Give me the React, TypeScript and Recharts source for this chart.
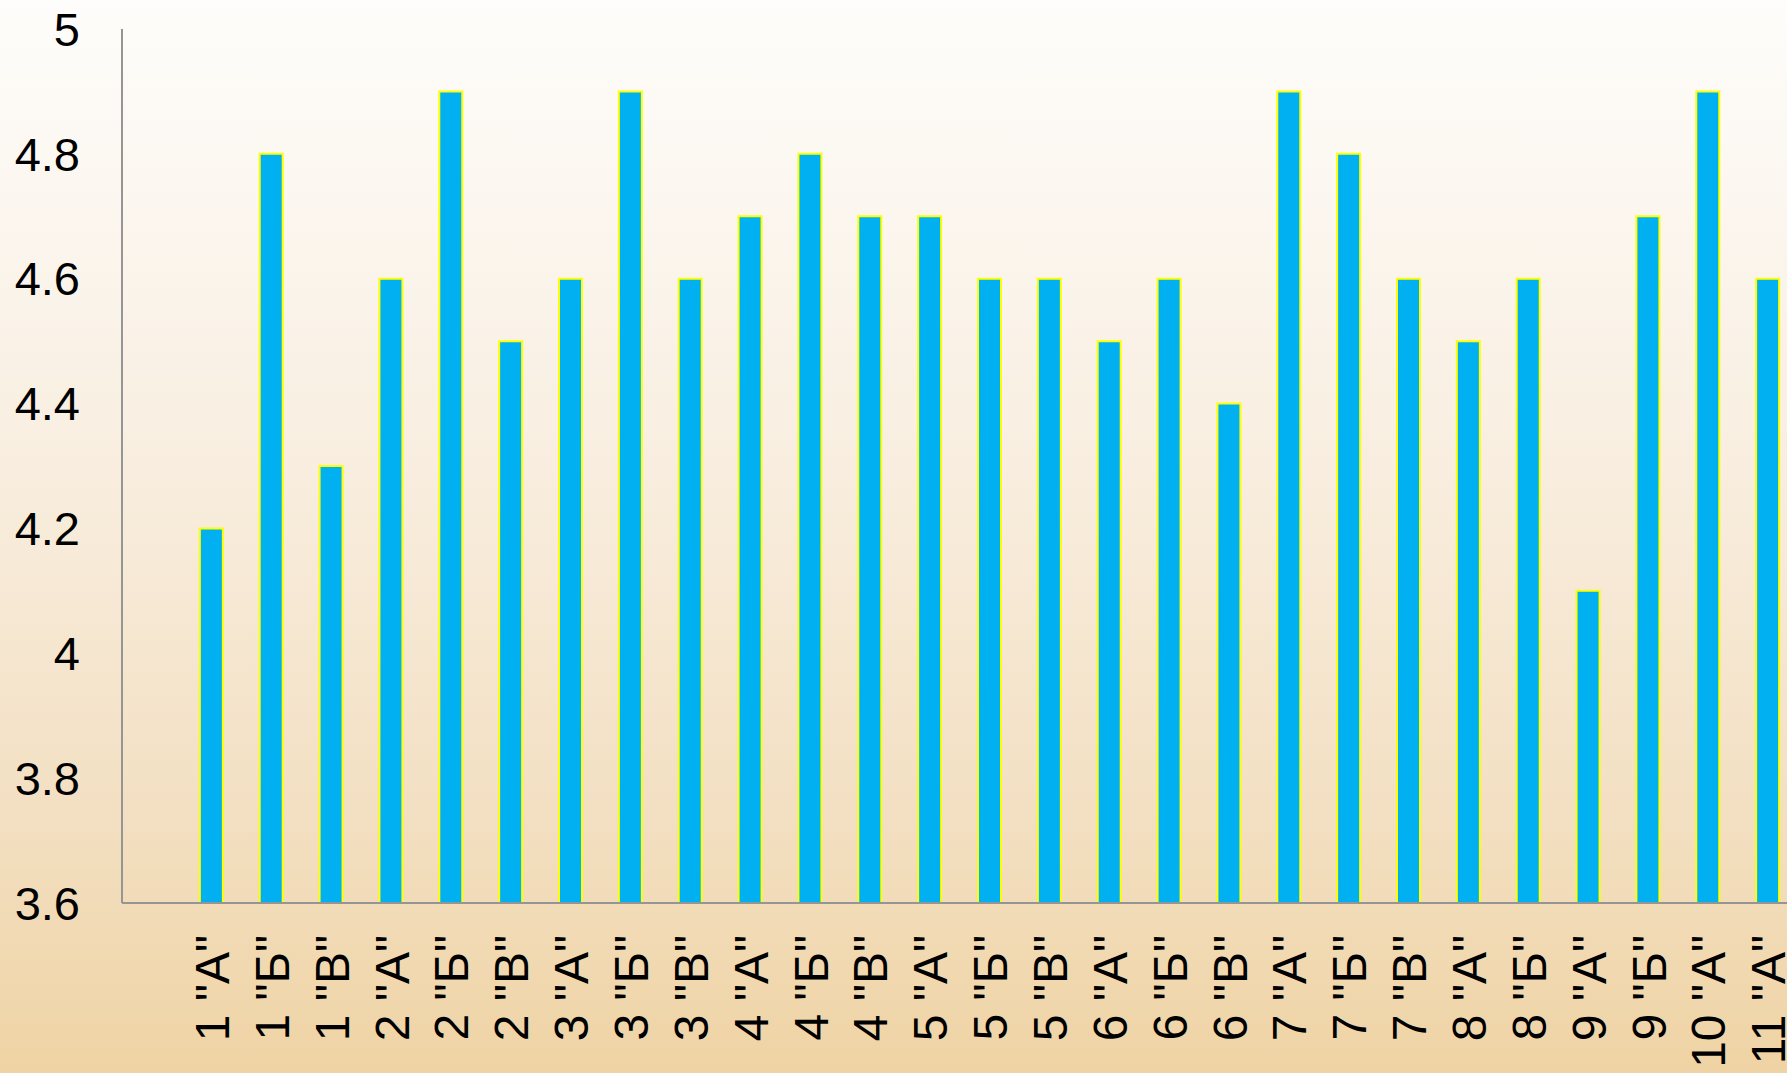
import React from "react"
import { BarChart, Bar, XAxis, YAxis } from "recharts"

// class names (first slot is the empty gap Excel leaves before 1 "А")
const classes = [
  "", '1 "А"', '1 "Б"', '1 "В"', '2 "А"', '2 "Б"', '2 "В"', '3 "А"', '3 "Б"', '3 "В"',
  '4 "А"', '4 "Б"', '4 "В"', '5 "А"', '5 "Б"', '5 "В"', '6 "А"', '6 "Б"', '6 "В"',
  '7 "А"', '7 "Б"', '7 "В"', '8 "А"', '8 "Б"', '9 "А"', '9 "Б"', '10 "А"', '11 "А"',
]
const scores = [
  null, 4.2, 4.8, 4.3, 4.6, 4.9, 4.5, 4.6, 4.9, 4.6,
  4.7, 4.8, 4.7, 4.7, 4.6, 4.6, 4.5, 4.6, 4.4,
  4.9, 4.8, 4.6, 4.5, 4.6, 4.1, 4.7, 4.9, 4.6,
]
const yTicks = [3.6, 3.8, 4, 4.2, 4.4, 4.6, 4.8, 5]

const data = classes.map((name, i) => ({ name, score: scores[i] }))

const FONT = '"Liberation Sans", Arial, sans-serif'

function ClassTick(props: any) {
  const { x, y, payload } = props
  return (
    <text
      transform={`translate(${x},${y + 32}) rotate(-90)`}
      textAnchor="end"
      dy="0.36em"
      fontSize={48}
      fontFamily={FONT}
      fill="#000"
    >
      {payload.value}
    </text>
  )
}

export default function App() {
  return (
    <div
      style={{
        position: "fixed",
        left: 0,
        top: 0,
        width: 1787,
        height: 1073,
        overflow: "hidden",
        background: "linear-gradient(to bottom, #fefdfb 0%, #f9efe2 40%, #f3e0c3 75%, #efd3a4 100%)",
      }}
    >
      <BarChart
        width={1798}
        height={1073}
        data={data}
        margin={{ top: 29, right: 0, bottom: 0, left: 0 }}
      >
        <XAxis
          dataKey="name"
          interval={0}
          height={170}
          tickLine={false}
          tickSize={0}
          tickMargin={0}
          axisLine={{ stroke: "#959595", strokeWidth: 2 }}
          tick={<ClassTick />}
        />
        <YAxis
          domain={[3.6, 5]}
          ticks={yTicks}
          allowDataOverflow
          width={122}
          tickLine={false}
          tickSize={0}
          tickMargin={42}
          axisLine={{ stroke: "#959595", strokeWidth: 2 }}
          tick={{ fill: "#000", fontSize: 47, fontFamily: FONT }}
        />
        <Bar
          dataKey="score"
          fill="#00b0f0"
          stroke="#ffff00"
          strokeWidth={2}
          barSize={23}
          isAnimationActive={false}
        />
      </BarChart>
    </div>
  )
}
